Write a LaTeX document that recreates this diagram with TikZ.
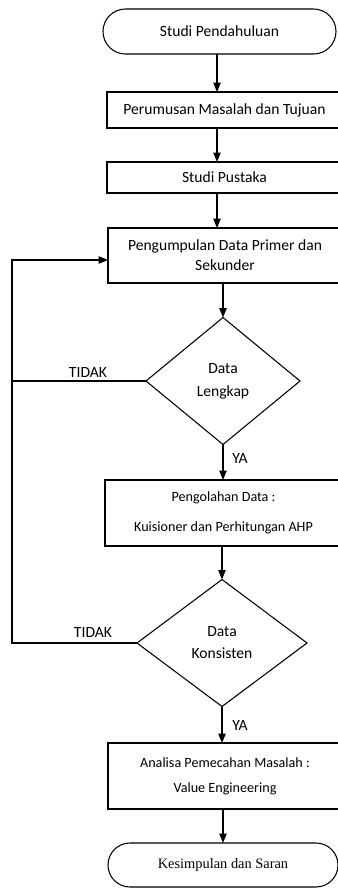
\documentclass[tikz,border=0pt]{standalone}
\usepackage{fontspec}
\setmainfont{Carlito}
\newfontfamily\timesfont{Liberation Serif}
\usetikzlibrary{shapes.geometric,shapes.misc,arrows.meta}
\begin{document}
\begin{tikzpicture}[x=0.75pt,y=-0.75pt,
  every node/.style={inner sep=0pt, outer sep=0pt},
  lw/.style={line width=0.8pt},
  terminal/.style={draw, lw, rounded rectangle, font=\fontsize{11.7}{14}\selectfont},
  procbox/.style={draw, lw, rectangle, align=center},
  decision/.style={draw, lw, diamond, align=center, font=\fontsize{11.7}{17}\selectfont},
  flow/.style={lw, -{Triangle[length=7pt,width=5.5pt]}},
  lbl/.style={font=\fontsize{11.7}{14}\selectfont}]
\useasboundingbox (0,0) rectangle (338,888);
\clip (0,0) rectangle (338,888);
\fill[white] (0,0) rectangle (338,888);

\node[terminal, minimum width=174.75pt, minimum height=33.75pt] (start) at (219.5,31.5) {Studi Pendahuluan};
\node[procbox, minimum width=176.25pt, minimum height=27pt, font=\fontsize{11.7}{14}\selectfont] (b2) at (224.5,110) {Perumusan Masalah dan Tujuan};
\node[procbox, minimum width=176.25pt, minimum height=23.25pt, font=\fontsize{11.7}{14}\selectfont] (b3) at (224.5,177.5) {Studi Pustaka};
\node[procbox, minimum width=175.5pt, minimum height=41.25pt, font=\fontsize{11.7}{15}\selectfont] (b4) at (225,255.5) {Pengumpulan Data Primer dan\\Sekunder};
\node[decision, minimum width=115.5pt, minimum height=95.25pt] (d1) at (223,381) {Data\\Lengkap};
\node[procbox, minimum width=177.75pt, minimum height=49.5pt, font=\fontsize{10.6}{22.5}\selectfont] (b5) at (223.5,513) {Pengolahan Data :\\Kuisioner dan Perhitungan AHP};
\node[decision, minimum width=127.5pt, minimum height=95.25pt, font=\fontsize{11.7}{16.5}\selectfont] (d2) at (222,643) {Data\\Konsisten};
\node[procbox, minimum width=175.5pt, minimum height=49.5pt, font=\fontsize{10.6}{18.75}\selectfont] (b6) at (225,776) {Analisa Pemecahan Masalah :\\Value Engineering};
\node[terminal, minimum width=172.5pt, minimum height=33pt, font=\timesfont\fontsize{10.8}{13}\selectfont] (end) at (223,865) {Kesimpulan dan Saran};

\node[lbl] (t1) at (88,372) {TIDAK};
\node[lbl] (t2) at (93,632) {TIDAK};
\node[lbl] (y1) at (240,458) {YA};
\node[lbl] (y2) at (240,725) {YA};

\coordinate (ax) at (217,0);
\coordinate (bx) at (223,0);
\coordinate (fb) at (12,0);
\coordinate (fy) at (0,260);

\draw[flow] (start.south -| ax) -- (b2.north -| ax);
\draw[flow] (b2.south -| ax) -- (b3.north -| ax);
\draw[flow] (b3.south -| ax) -- (b4.north -| ax);
\draw[flow] (b4.south -| bx) -- (d1.north);
\draw[flow] (d1.south) -- (b5.north -| d1.south);
\draw[flow] (b5.south -| d2.north) -- (d2.north);
\draw[flow] (d2.south) -- (b6.north -| d2.south);
\draw[flow] (b6.south -| bx) -- (end.north -| bx);

\draw[lw] (d1.west) -- (d1.west -| fb);
\draw[flow] (d2.west) -- (d2.west -| fb) -- (fb |- fy) -- (fy -| b4.west);
\end{tikzpicture}
\end{document}
